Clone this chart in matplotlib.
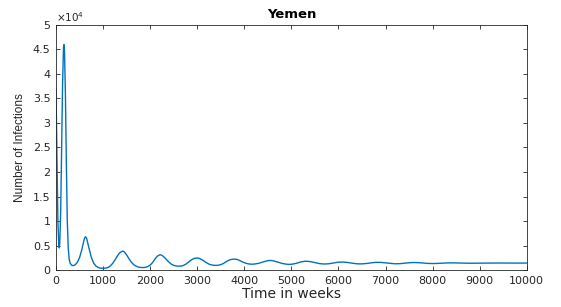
import matplotlib
matplotlib.use("Agg")
import matplotlib.pyplot as plt
from matplotlib import font_manager

# weeks and number of infections
weeks = [0, 10, 20, 40, 60, 70, 80, 100, 120, 140, 160, 170, 180, 200, 220, 240,
         260, 280, 300, 330, 360, 400, 450, 500, 550, 600, 625, 650, 700, 750,
         800, 850, 900, 950, 1000, 1050, 1100, 1150, 1200, 1250, 1300, 1350,
         1400, 1420, 1450, 1500, 1550, 1600, 1650, 1700, 1750, 1800, 1850, 1900,
         1950, 2000, 2050, 2100, 2150, 2200, 2220, 2250, 2300, 2350, 2400, 2450,
         2500, 2550, 2600, 2650, 2700, 2750, 2800, 2850, 2900, 2950, 3000, 3050,
         3100, 3150, 3200, 3250, 3300, 3350, 3400, 3450, 3500, 3550, 3600, 3650,
         3700, 3750, 3800, 3850, 3900, 3950, 4000, 4050, 4100, 4150, 4200, 4300,
         4400, 4500, 4550, 4600, 4700, 4800, 4900, 4950, 5000, 5100, 5200, 5300,
         5400, 5500, 5600, 5700, 5800, 5900, 6000, 6100, 6200, 6300, 6400, 6500,
         6600, 6700, 6800, 6900, 7000, 7100, 7200, 7300, 7400, 7500, 7600, 7700,
         7800, 7900, 8000, 8100, 8200, 8300, 8400, 8500, 8600, 8700, 8800, 8900,
         9000, 9100, 9200, 9300, 9400, 9500, 9600, 9700, 9800, 9900, 10000]
infections = [37000, 30000, 22000, 10000, 5000, 4500, 5500, 12000, 25000, 38000,
              45500, 46000, 45000, 36000, 22000, 10000, 4500, 2200, 1400, 1000,
              900, 1000, 1500, 2500, 4200, 6300, 6800, 6500, 4500, 2600,
              1400, 800, 500, 380, 350, 380, 500, 800, 1300, 2000, 2800, 3500,
              3800, 3850, 3700, 3100, 2300, 1600, 1100, 800, 600, 520, 500, 550,
              700, 1000, 1500, 2200, 2800, 3100, 3100, 3000, 2600, 2100, 1600, 1200,
              950, 820, 780, 800, 900, 1150, 1500, 1900, 2200, 2400, 2450, 2350,
              2100, 1800, 1450, 1200, 1050, 960, 940, 980, 1100, 1300, 1600, 1900,
              2100, 2200, 2220, 2150, 1950, 1700, 1500, 1330, 1230, 1190, 1200, 1350,
              1650, 1900, 1950, 1900, 1650, 1350, 1180, 1150, 1170, 1350, 1650, 1800,
              1720, 1500, 1300, 1220, 1280, 1450, 1600, 1620, 1530, 1380, 1260, 1250,
              1330, 1470, 1560, 1550, 1450, 1340, 1270, 1290, 1380, 1480, 1530, 1500,
              1420, 1350, 1320, 1340, 1390, 1440, 1460, 1450, 1420, 1390, 1380, 1390,
              1410, 1430, 1440, 1440, 1430, 1420, 1410, 1410, 1420, 1420, 1420]

x_ticks = [0, 1000, 2000, 3000, 4000, 5000, 6000, 7000, 8000, 9000, 10000]
y_ticks = [0, 5000, 10000, 15000, 20000, 25000, 30000, 35000, 40000, 45000, 50000]
y_tick_labels = ['0', '0.5', '1', '1.5', '2', '2.5', '3', '3.5', '4', '4.5', '5']

installed = {f.name for f in font_manager.fontManager.ttflist}
narrow = 'Liberation Sans Narrow' if 'Liberation Sans Narrow' in installed else 'Liberation Sans'

plt.rcParams['font.family'] = 'DejaVu Sans'
ax_color = '#262626'

fig = plt.figure(figsize=(5.61, 3.07), dpi=100)
ax = fig.add_axes([0.0998, 0.1205, 0.8392, 0.7981])

ax.plot(weeks, infections, color='#0072BD', linewidth=1.0)

ax.set_xlim(0, 10000)
ax.set_ylim(0, 50000)
ax.set_xticks(x_ticks)
ax.set_yticks(y_ticks)
ax.set_yticklabels(y_tick_labels)
ax.tick_params(direction='in', length=3, width=0.6, colors=ax_color,
               labelsize=8, top=True, right=True, pad=4)
for s in ax.spines.values():
    s.set_linewidth(0.6)
    s.set_color(ax_color)

ax.set_title('Yemen', fontsize=9.5, fontweight='bold', pad=5)
ax.set_xlabel('Time in weeks', fontsize=10, color=ax_color, labelpad=1)
ax.set_ylabel('Number of Infections', fontsize=8.5, family=narrow, color=ax_color, labelpad=5)
ax.text(0.0, 1.005, r'$\times10^4$', transform=ax.transAxes, fontsize=7.5,
        color=ax_color, ha='left', va='bottom')

fig.savefig('out.png', dpi=100)
